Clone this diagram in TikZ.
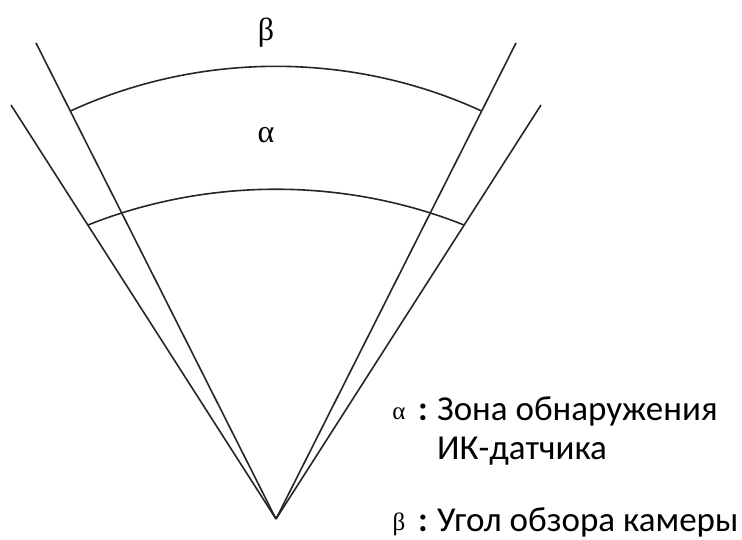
\documentclass[tikz,border=0pt]{standalone}
\usepackage{fontspec}
\setmainfont{Carlito}
\newfontfamily\greekfont{Liberation Serif}
\usepackage{tikz}
\usetikzlibrary{calc}

\begin{document}
\begin{tikzpicture}[x=1pt,y=1pt]
        % Define colors and styles
        \definecolor{lineink}{rgb}{0.15, 0.15, 0.15} % Dark grey
        \tikzset{
          edge/.style={lineink, line width=1.6pt},
          greek/.style={font=\greekfont\fontsize{32}{32}\selectfont, inner sep=0pt},
          keysym/.style={font=\greekfont\fontsize{25}{25}\selectfont, inner sep=0pt, anchor=base},
          legend/.style={font=\fontsize{35}{35}\selectfont, inner sep=0pt, anchor=base west}
        }
        
        % Fix the picture size
        \useasboundingbox (0,0) rectangle (742,540);
        
        % Apex and far ends of the rays
        \coordinate (apex) at (276,21);
        \coordinate (camL) at (36,497);  % Camera ray, left
        \coordinate (camR) at (516,497); % Camera ray, right
        \coordinate (irL) at (11,435);   % Sensor ray, left
        \coordinate (irR) at (541,435);  % Sensor ray, right
        
        % Ends of the arcs on the rays
        \coordinate (topL) at ($(apex)!0.857!(camL)$);
        \coordinate (topR) at ($(apex)!0.857!(camR)$);
        \coordinate (lowL) at ($(apex)!0.710!(irL)$);
        \coordinate (lowR) at ($(apex)!0.710!(irR)$);
        
        % Draw rays
        \draw[edge] (apex) -- (camL);
        \draw[edge] (apex) -- (camR);
        \draw[edge] (apex) -- (irL);
        \draw[edge] (apex) -- (irR);
        
        % Draw arcs
        \draw[edge] (topL) to[bend left=24.7, looseness=0.89] (topR);
        \draw[edge] (lowL) to[bend left=21.7, looseness=0.88] (lowR);
        
        % Zone labels
        \node[greek] (beta) at (266,507) {β};
        \node[greek] (alpha) at (266,405) {α};
        
        % Legend
        \node[keysym] (keyA) at (399,120) {α};
        \node[legend, anchor=base] (colA) at (423,119) {\bfseries :};
        \node[legend] (zone) at (437,119) {Зона обнаружения};
        \node[legend] (zone2) at (437,80) {ИК-датчика};
        \node[keysym] (keyB) at (399,9) {β};
        \node[legend, anchor=base] (colB) at (423,8) {\bfseries :};
        \node[legend] (view) at (437,8) {Угол обзора камеры};
        \end{tikzpicture}
\end{document}
